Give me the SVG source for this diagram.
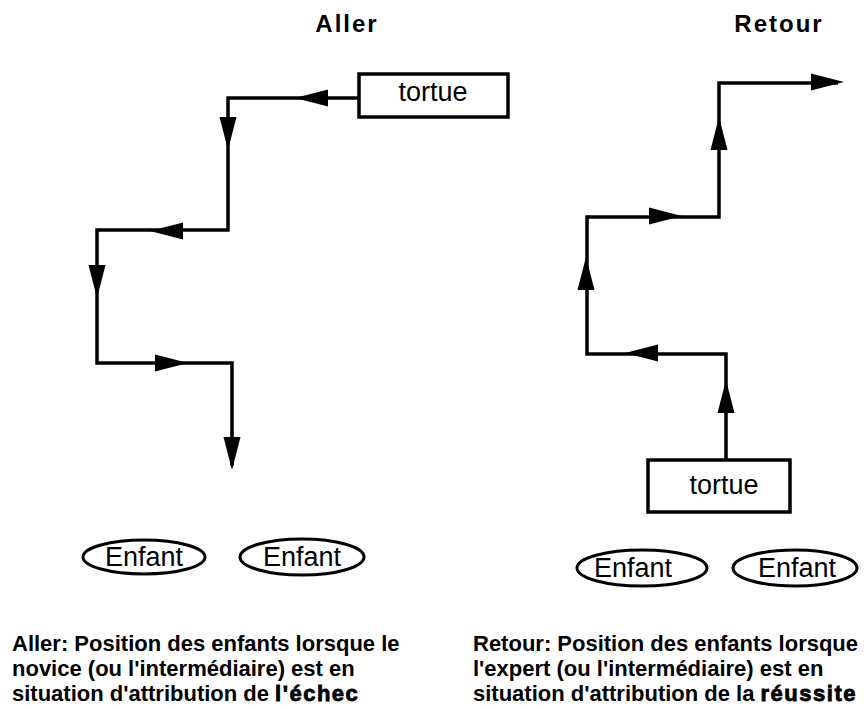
<svg xmlns="http://www.w3.org/2000/svg" xmlns:xlink="http://www.w3.org/1999/xlink" width="867" height="710" viewBox="0 0 867 710">
<style>
.ln{fill:none;stroke:#000;stroke-width:3.5;stroke-linejoin:miter}
.box{fill:#fff;stroke:#000;stroke-width:3.5}
.ell{fill:#fff;stroke:#000;stroke-width:3}
.lbl{font-family:"Liberation Sans",Arial,sans-serif;font-size:27px;fill:#000;text-anchor:middle}
.ttl{font-family:"Liberation Sans",Arial,sans-serif;font-size:24px;font-weight:bold;letter-spacing:2px;fill:#000;text-anchor:middle}
.cap{font-family:"Liberation Sans",Arial,sans-serif;font-size:22px;font-weight:bold;fill:#000}
.emph{stroke:#000;stroke-width:0.8;letter-spacing:1.5px}
</style>
<defs>
<path id="ah" d="M0,0 L-33,-8.5 L-33,8.5 Z" fill="#000"/>
</defs>
<rect width="867" height="710" fill="#fff"/>
<text class="ttl" x="347" y="32">Aller</text>
<text class="ttl" x="779" y="32">Retour</text>
<g id="connectors">
<path class="ln" d="M359,98 H228 V230 H97 V363 H232 V466"/>
<use xlink:href="#ah" transform="translate(295,98) rotate(180)"/>
<use xlink:href="#ah" transform="translate(228,150) rotate(90)"/>
<use xlink:href="#ah" transform="translate(150,231) rotate(180)"/>
<use xlink:href="#ah" transform="translate(97,298) rotate(90)"/>
<use xlink:href="#ah" transform="translate(188,363)"/>
<use xlink:href="#ah" transform="translate(232,470) rotate(90)"/>
<path class="ln" d="M726,460 V354 H587 V217 H719 V83 H838"/>
<use xlink:href="#ah" transform="translate(726,380) rotate(-90)"/>
<use xlink:href="#ah" transform="translate(625,353) rotate(180)"/>
<use xlink:href="#ah" transform="translate(586,257) rotate(-90)"/>
<use xlink:href="#ah" transform="translate(682,216)"/>
<use xlink:href="#ah" transform="translate(719,117) rotate(-90)"/>
<use xlink:href="#ah" transform="translate(844,82)"/>
</g>
<g id="tortue-aller"><rect class="box" x="359" y="74" width="149" height="43"/><text class="lbl" x="433" y="101">tortue</text></g>
<g id="tortue-retour"><rect class="box" x="648" y="460" width="142" height="52"/><text class="lbl" x="724" y="494">tortue</text></g>
<g id="enfant-a1"><ellipse class="ell" cx="144" cy="557" rx="61" ry="17"/><text class="lbl" x="144" y="566">Enfant</text></g>
<g id="enfant-a2"><ellipse class="ell" cx="302" cy="557" rx="62" ry="18"/><text class="lbl" x="302" y="566">Enfant</text></g>
<g id="enfant-r1"><ellipse class="ell" cx="642" cy="568" rx="65" ry="18"/><text class="lbl" x="633" y="577">Enfant</text></g>
<g id="enfant-r2"><ellipse class="ell" cx="795" cy="568" rx="62" ry="18"/><text class="lbl" x="797" y="577">Enfant</text></g>
<g id="caption-aller">
<text class="cap" x="12" y="651">Aller: Position des enfants lorsque le</text>
<text class="cap" x="12" y="676">novice (ou l'intermédiaire) est en</text>
<text class="cap" x="12" y="701">situation d'attribution de <tspan class="emph">l'échec</tspan></text>
</g>
<g id="caption-retour">
<text class="cap" x="473" y="651">Retour: Position des enfants lorsque</text>
<text class="cap" x="473" y="676">l'expert (ou l'intermédiaire) est en</text>
<text class="cap" x="473" y="701">situation d'attribution de la <tspan class="emph">réussite</tspan></text>
</g>
</svg>
